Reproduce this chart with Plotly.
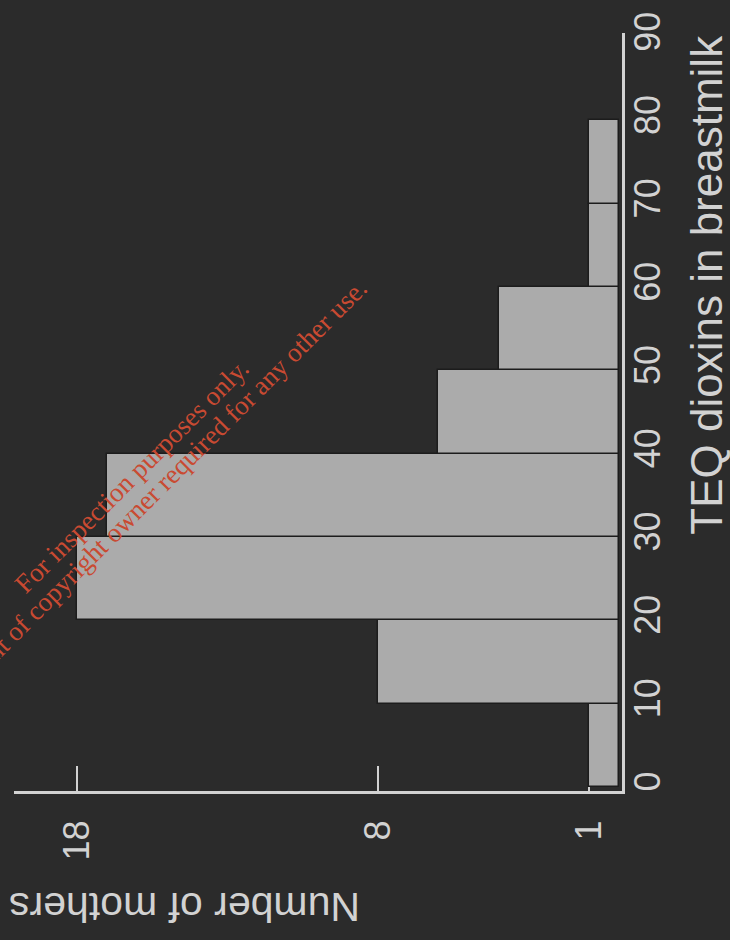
import plotly.graph_objects as go

# ---- data ----
bin_start = [0, 10, 20, 30, 40, 50, 60, 70]   # TEQ dioxins bins (width 10)
bin_width = 10
mothers = [1, 8, 18, 17, 6, 4, 1, 1]           # number of mothers per bin
teq_ticks = [0, 10, 20, 30, 40, 50, 60, 70, 80, 90]
count_ticks = [1, 8, 18]

bg = "#2b2b2b"
fg = "#d2d2d2"
bar_col = "#ababab"

centers = [s + bin_width / 2 for s in bin_start]

fig = go.Figure()
fig.add_trace(go.Bar(
    orientation="h",
    y=centers,
    x=mothers,
    width=[bin_width] * len(mothers),
    marker=dict(color=bar_col, line=dict(color="#1c1c1c", width=1.5)),
    showlegend=False,
    hoverinfo="skip",
))

L, R, T, B = 14, 108, 23, 149
W, H = 730, 940

def px_to_paper(px, py):
    return (px - L) / (W - L - R), (H - B - py) / (H - T - B)

fig.update_layout(
    width=W, height=H,
    margin=dict(l=L, r=R, t=T, b=B),
    paper_bgcolor=bg, plot_bgcolor=bg,
    bargap=0,
    font=dict(family="Liberation Sans, Arial, sans-serif", color=fg),
)

fig.update_xaxes(
    range=[20.1, -0.1],
    tickvals=count_ticks,
    ticktext=[str(v) for v in count_ticks],
    tickangle=-90,
    tickfont=dict(size=36, color=fg),
    ticks="inside", ticklen=25, tickwidth=2, tickcolor=fg,
    ticklabelstandoff=12,
    showline=True, linewidth=3, linecolor=fg,
    showgrid=False, zeroline=False,
    layer="below traces",
)
fig.update_yaxes(
    range=[-0.5, 90.5],
    side="right",
    tickvals=teq_ticks,
    ticktext=[str(v) for v in teq_ticks],
    tickangle=-90,
    tickfont=dict(size=36, color=fg),
    ticks="",
    ticklabelstandoff=-8,
    showline=True, linewidth=3, linecolor=fg,
    showgrid=False, zeroline=False,
)

# axis titles (rotated as in the photographed chart)
x1, y1 = px_to_paper(707, 278)
fig.add_annotation(x=x1, y=y1, xref="paper", yref="paper",
                   text="TEQ dioxins in breastmilk", textangle=-90,
                   showarrow=False, font=dict(size=44, color=fg),
                   xanchor="center", yanchor="middle")
x2, y2 = px_to_paper(185, 908)
fig.add_annotation(x=x2, y=y2, xref="paper", yref="paper",
                   text="Number of mothers", textangle=180,
                   showarrow=False, font=dict(size=41, color=fg),
                   xanchor="center", yanchor="middle")

# red diagonal watermark
wm = "#c94a32"
serif = "Liberation Serif, Times New Roman, serif"
x3, y3 = px_to_paper(132, 472)
fig.add_annotation(x=x3, y=y3, xref="paper", yref="paper",
                   text="For inspection purposes only.", textangle=-45,
                   showarrow=False, font=dict(size=27, color=wm, family=serif),
                   xanchor="center", yanchor="middle")
x4, y4 = px_to_paper(152, 490)
fig.add_annotation(x=x4, y=y4, xref="paper", yref="paper",
                   text="Consent of copyright owner required for any other use.", textangle=-45,
                   showarrow=False, font=dict(size=27, color=wm, family=serif),
                   xanchor="center", yanchor="middle")

fig.write_html("out.html", config={"displayModeBar": False},
               post_script="document.body.style.margin='0';")
